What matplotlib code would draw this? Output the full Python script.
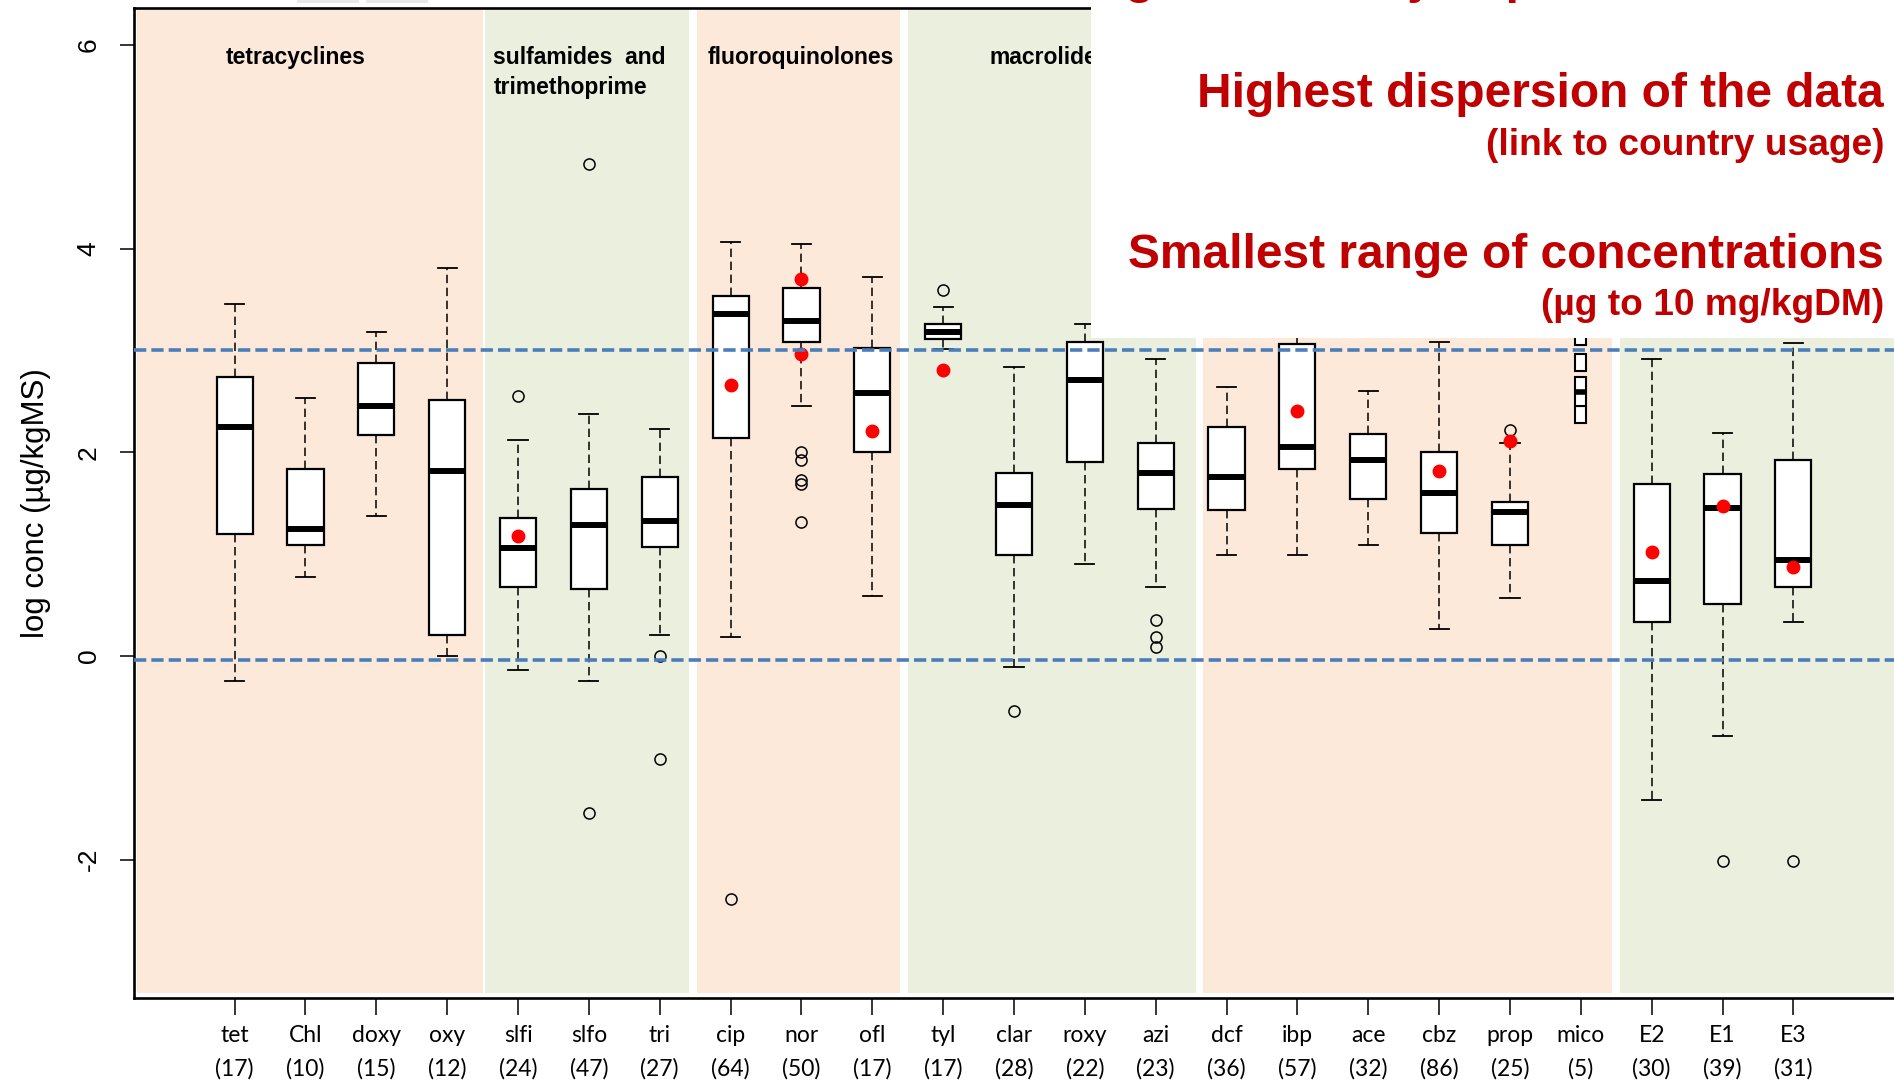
import matplotlib
matplotlib.use("Agg")
import matplotlib.pyplot as plt
from matplotlib.patches import Rectangle

plt.rcParams["font.family"] = ["Liberation Sans", "DejaVu Sans"]
plt.rcParams["axes.unicode_minus"] = False

# compounds and number of sludge samples
names = ["tet", "Chl", "doxy", "oxy", "slfi", "slfo", "tri", "cip", "nor", "ofl", "tyl", "clar",
         "roxy", "azi", "dcf", "ibp", "ace", "cbz", "prop", "mico", "E2", "E1", "E3"]
counts = [17, 10, 15, 12, 24, 47, 27, 64, 50, 17, 17, 28, 22, 23, 36, 57, 32, 86, 25, 5, 30, 39, 31]

# box statistics (log10 ug/kg DM); mico is drawn on its own further down
whis_lo = [-0.245, 0.78, 1.37, 0.0, -0.14, -0.245, 0.206, 0.19, 2.45, 0.59, 3.01, -0.105,
           0.90, 0.68, 0.995, 0.995, 1.09, 0.265, 0.565, None, -1.41, -0.79, 0.33]
q1 = [1.195, 1.09, 2.17, 0.206, 0.68, 0.66, 1.07, 2.14, 3.08, 2.0, 3.11, 0.99,
      1.90, 1.44, 1.43, 1.835, 1.54, 1.21, 1.09, None, 0.33, 0.51, 0.68]
med = [2.25, 1.25, 2.455, 1.82, 1.06, 1.29, 1.33, 3.355, 3.29, 2.585, 3.18, 1.485,
       2.71, 1.80, 1.76, 2.055, 1.92, 1.605, 1.41, None, 0.74, 1.45, 0.94]
q3 = [2.74, 1.84, 2.88, 2.51, 1.35, 1.64, 1.76, 3.53, 3.61, 3.02, 3.26, 1.80,
      3.08, 2.095, 2.25, 3.06, 2.175, 2.0, 1.51, None, 1.685, 1.785, 1.92]
whis_hi = [3.455, 2.53, 3.18, 3.81, 2.12, 2.38, 2.23, 4.06, 4.04, 3.72, 3.43, 2.84,
           3.26, 2.92, 2.645, 3.4, 2.605, 3.08, 2.095, None, 2.92, 2.19, 3.07]
outliers = {
    "slfi": [2.55],
    "slfo": [4.83, -1.54],
    "tri": [0.0, -1.01],
    "cip": [-2.39],
    "nor": [2.005, 1.925, 1.73, 1.685, 1.317],
    "tyl": [3.59],
    "clar": [-0.54],
    "azi": [0.35, 0.19, 0.09],
    "prop": [2.22],
    "E1": [-2.01],
    "E3": [-2.01],
}
# red points
dot_names = ["slfi", "cip", "nor", "nor", "ofl", "tyl", "ibp", "cbz", "prop", "E2", "E1", "E3"]
dot_vals = [1.18, 2.66, 3.70, 2.96, 2.21, 2.81, 2.41, 1.815, 2.115, 1.025, 1.47, 0.875]
# mico only has 5 values: stacked narrow cells
mico_cells = [(2.29, 2.45), (2.45, 2.595), (2.595, 2.74), (2.80, 2.96), (3.05, 3.30)]
mico_med = 2.595

# compound families
group_names = ["tetracyclines", "sulfamides  and\ntrimethoprime", "fluoroquinolones", "macrolides"]
group_x = [0.873, 4.653, 7.671, 11.65]
spans = [(-0.38, 4.51, "#FDE9D9"), (4.53, 7.42, "#EBF0DE"), (7.52, 10.39, "#FDE9D9"),
         (10.51, 14.57, "#EBF0DE"), (14.67, 20.44, "#FDE9D9"), (20.55, 24.6, "#EBF0DE")]

W, H = 1894, 1090
fig = plt.figure(figsize=(W / 100, H / 100), dpi=100)
ax = fig.add_axes([134 / W, 1 - 998.2 / H, 1760 / W, 990 / H])
ax.set_xlim(-0.42, 24.42)
ax.set_ylim(-3.36, 6.36)

for x0, x1, col in spans:
    ax.add_patch(Rectangle((x0, -3.31), x1 - x0, 9.8, facecolor=col, edgecolor="none", zorder=0))

pos = {n: i + 1 for i, n in enumerate(names)}
stats, bpos = [], []
for i, n in enumerate(names):
    if med[i] is None:
        continue
    stats.append(dict(med=med[i], q1=q1[i], q3=q3[i], whislo=whis_lo[i], whishi=whis_hi[i],
                      fliers=outliers.get(n, [])))
    bpos.append(i + 1)

ax.bxp(stats, positions=bpos, widths=0.51, capwidths=0.27, patch_artist=True,
       boxprops=dict(facecolor="white", edgecolor="black", linewidth=1.6),
       medianprops=dict(color="black", linewidth=4.3, solid_capstyle="butt"),
       whiskerprops=dict(color="black", linewidth=1.1, linestyle=(0, (5.5, 3))),
       capprops=dict(color="black", linewidth=1.3),
       flierprops=dict(marker="o", markerfacecolor="none", markeredgecolor="black",
                       markersize=8, markeredgewidth=1.1),
       zorder=3)

xm = pos["mico"]
for lo, hi in mico_cells:
    ax.bar(xm, hi - lo, bottom=lo, width=0.155, color="white", edgecolor="black",
           linewidth=1.5, zorder=3)
ax.plot([xm - 0.078, xm + 0.078], [mico_med, mico_med], color="black", lw=4, zorder=4,
        solid_capstyle="butt")

ax.plot([pos[n] for n in dot_names], dot_vals, "o", color="#FF0000", ms=9, zorder=6)

for y in (3.0, -0.035):
    ax.axhline(y, color="#4A7EBB", lw=2.6, ls=(0, (3.4, 1.4)), zorder=8)

for label, xl in zip(group_names, group_x):
    ax.text(xl, 5.99, label, fontsize=16.5, fontweight="bold", va="top", ha="left",
            linespacing=1.4, zorder=2)

ax.set_xticks(range(1, len(names) + 1))
ax.set_xticklabels([f"{n}\n({c})" for n, c in zip(names, counts)],
                   fontfamily=["Lato", "DejaVu Sans"], fontsize=16.5, linespacing=1.7)
ax.set_yticks([-2, 0, 2, 4, 6])
ax.tick_params(axis="x", length=12, width=1.1, pad=7)
ax.tick_params(axis="y", length=10, width=1.1, pad=14, labelsize=19, labelrotation=90)
for lab in ax.get_yticklabels():
    lab.set_va("center")
ax.set_ylabel("log conc (µg/kgMS)", fontsize=22.5)
ax.yaxis.set_label_coords(-0.047, 0.5)
ax.spines["right"].set_visible(False)
for s in ("left", "bottom", "top"):
    ax.spines[s].set_linewidth(1.9)

# overlay panel with the comments
fig.patches.append(Rectangle((1091 / W, 1 - 338 / H), 1 - 1091 / W, 338 / H,
                             transform=fig.transFigure, facecolor="white", edgecolor="none",
                             zorder=5))
for gx in (297, 366):
    fig.patches.append(Rectangle((gx / W, 1 - 3 / H), 62 / W, 3 / H, transform=fig.transFigure,
                                 facecolor="#E8E8E8", edgecolor="none", zorder=5))

red = "#C00000"
fig.text(1884 / W, 1 + 7 / H, "Highest toxicity of pharmaceuticals", color=red, fontsize=34.5,
         fontweight="bold", ha="right", va="baseline", zorder=6)
fig.text(1884 / W, 1 - 107 / H, "Highest dispersion of the data", color=red, fontsize=34.5,
         fontweight="bold", ha="right", va="baseline", zorder=6)
fig.text(1884 / W, 1 - 155 / H, "(link to country usage)", color=red, fontsize=26.7,
         fontweight="bold", ha="right", va="baseline", zorder=6)
fig.text(1884 / W, 1 - 268 / H, "Smallest range of concentrations", color=red, fontsize=34.5,
         fontweight="bold", ha="right", va="baseline", zorder=6)
fig.text(1884 / W, 1 - 315 / H, "(µg to 10 mg/kgDM)", color=red, fontsize=26.7,
         fontweight="bold", ha="right", va="baseline", zorder=6)

fig.savefig("out.png", dpi=100)
